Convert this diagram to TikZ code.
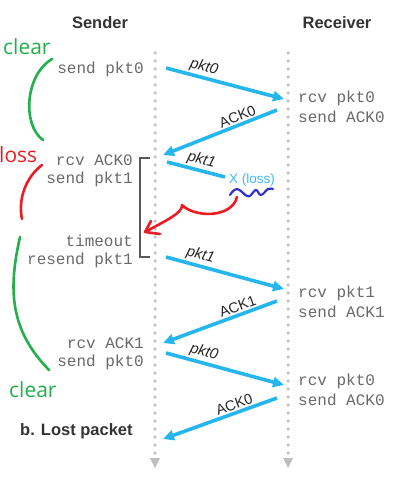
\documentclass[tikz,border=0pt]{standalone}
\usepackage{fontspec}
\setmainfont{Liberation Sans}
\newfontfamily\monof{Liberation Mono}
\newfontfamily\handf{Open Sans}
\usetikzlibrary{arrows.meta}
\definecolor{pktblue}{RGB}{36,182,236}
\definecolor{lossblue}{RGB}{60,186,240}
\definecolor{squig}{RGB}{50,50,200}
\definecolor{hgreen}{RGB}{34,176,74}
\definecolor{hred}{RGB}{236,28,36}
\definecolor{dotgray}{RGB}{190,190,190}
\definecolor{txtgray}{RGB}{105,105,105}
\tikzset{
  msg/.style={draw=pktblue, line width=3.6pt, -{Triangle[length=11pt,width=10pt]}},
  lostmsg/.style={draw=pktblue, line width=3.6pt},
  mono/.style={font=\monof\fontsize{16}{18}\selectfont, text=txtgray, inner sep=0pt},
  head/.style={font=\bfseries\fontsize{16.5}{19}\selectfont, text=black!80},
  plab/.style={font=\itshape\fontsize{15}{17}\selectfont, text=black!85, sloped, above, inner sep=1.5pt},
  alab/.style={font=\fontsize{14.5}{17}\selectfont, text=black!85, sloped, above, inner sep=1.5pt},
  timeline/.style={draw=dotgray, line width=3.5pt, line cap=round, dash pattern=on 0pt off 8pt},
  tltip/.style={fill=dotgray, draw=none},
  hand/.style={font=\handf\fontsize{21}{24}\selectfont, inner sep=0pt},
  stroke/.style={line width=2.6pt, line cap=round, line join=round}
}
\begin{document}
\begin{tikzpicture}[x=1pt,y=-1pt]
\useasboundingbox (0,0) rectangle (406,497);
% headings
\node[head] (sender) at (100,23) {Sender};
\node[head] (receiver) at (337,23) {Receiver};
% timelines
\coordinate (st) at (155,53); \coordinate (sb) at (155,453);
\coordinate (rt) at (288,53); \coordinate (rb) at (288,453);
\draw[timeline] (st) -- (sb);
\draw[timeline] (rt) -- (rb);
\fill[tltip] (150,458) -- (160,458) -- (155,468) -- cycle;
\fill[tltip] (283,458) -- (293,458) -- (288,468) -- cycle;
% sender texts
\node[mono, anchor=east] (t1) at (144,69) {send pkt0};
\node[mono, anchor=east] (t2) at (133,160) {rcv ACK0};
\node[mono, anchor=east] (t3) at (133,179) {send pkt1};
\node[mono, anchor=east] (t4) at (133,241) {timeout};
\node[mono, anchor=east] (t5) at (133,260) {resend pkt1};
\node[mono, anchor=east] (t6) at (144,343) {rcv ACK1};
\node[mono, anchor=east] (t7) at (144,362) {send pkt0};
% receiver texts
\node[mono, anchor=west] (r1) at (298,98) {rcv pkt0};
\node[mono, anchor=west] (r2) at (298,117) {send ACK0};
\node[mono, anchor=west] (r3) at (298,293) {rcv pkt1};
\node[mono, anchor=west] (r4) at (298,312) {send ACK1};
\node[mono, anchor=west] (r5) at (298,381) {rcv pkt0};
\node[mono, anchor=west] (r6) at (298,400) {send ACK0};
% bracket
\coordinate (b1) at (150,158); \coordinate (b2) at (140,158);
\coordinate (b3) at (140,257); \coordinate (b4) at (150,257);
\draw[black!65, line width=1.2pt] (b1) -- (b2) -- (b3) -- (b4);
% message endpoints
\coordinate (a1s) at (166,68);  \coordinate (a1e) at (284,99);
\coordinate (a2s) at (277,110); \coordinate (a2e) at (163,155);
\coordinate (a3s) at (167,162); \coordinate (a3e) at (225,177);
\coordinate (a4s) at (166,257); \coordinate (a4e) at (284,289);
\coordinate (a5s) at (277,301); \coordinate (a5e) at (163,343);
\coordinate (a6s) at (166,353); \coordinate (a6e) at (284,385);
\coordinate (a7s) at (277,398); \coordinate (a7e) at (163,439);
\draw[msg] (a1s) -- node[plab, pos=0.3] (l1) {pkt0} (a1e);
\draw[msg] (a2s) -- node[alab, pos=0.32] (l2) {ACK0} (a2e);
\draw[lostmsg] (a3s) -- node[plab, pos=0.55] (l3) {pkt1} (a3e);
\draw[msg] (a4s) -- node[plab, pos=0.27] (l4) {pkt1} (a4e);
\draw[msg] (a5s) -- node[alab, pos=0.32] (l5) {ACK1} (a5e);
\draw[msg] (a6s) -- node[plab, pos=0.3] (l6) {pkt0} (a6e);
\draw[msg] (a7s) -- node[alab, pos=0.35] (l7) {ACK0} (a7e);
\node[font=\fontsize{13.5}{16}\selectfont, text=lossblue, anchor=west, inner sep=0pt] (loss) at (229,180) {X (loss)};
% caption
\node[head, anchor=west, inner sep=0pt] (cap) at (20,431) {b. Lost packet};
% hand annotations
\node[hand, text=hgreen, anchor=west] (c1) at (3,47) {clear};
\node[hand, text=hred, anchor=west] (ls) at (-1,155) {loss};
\node[hand, text=hgreen, anchor=west] (c2) at (9,390) {clear};
\draw[stroke, hgreen] (52,59) .. controls (25,75) and (22,125) .. (43,140);
\draw[stroke, hred] (42,165) .. controls (25,178) and (18,200) .. (22,219);
\draw[stroke, hgreen] (20,237) .. controls (8,290) and (10,330) .. (49,370);
% squiggle
\draw[stroke, squig, line width=2.2pt] plot[smooth, tension=0.7] coordinates {(230,195) (237,189) (247,196) (251,195) (256,190) (261,195) (268,189) (273,189)};
% red arrow
\coordinate (rs) at (237,197);
\coordinate (rc) at (182,205);
\coordinate (rtip) at (145,232);
\draw[stroke, hred] (rs) .. controls (232,218) and (195,218) .. (rc) .. controls (183,213) and (165,221) .. (rtip);
\draw[stroke, hred] (151,221) -- (rtip) -- (160,234);
\end{tikzpicture}
\end{document}
